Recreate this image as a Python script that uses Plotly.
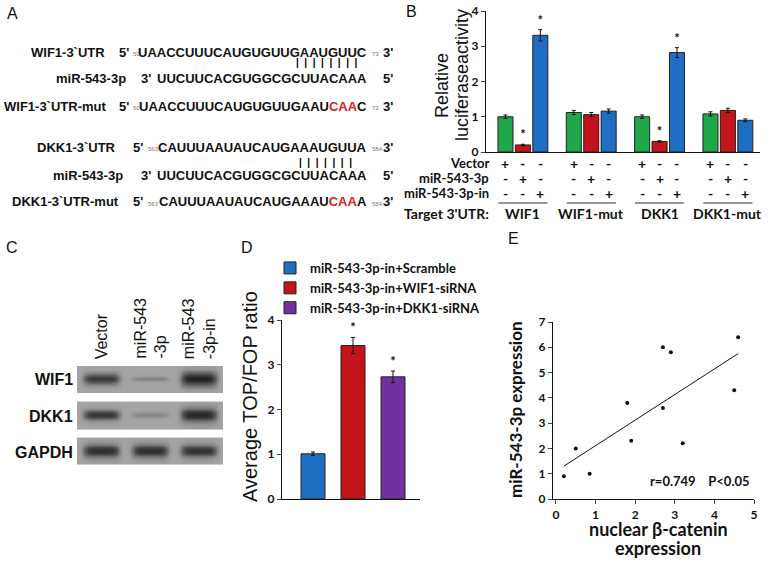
import numpy as np
import plotly.graph_objects as go

W, H = 772, 563

# ---------------- data ----------------
# Panel B: relative luciferase activity
b_groups = ["WIF1", "WIF1-mut", "DKK1", "DKK1-mut"]
b_treat = ["Vector", "miR-543-3p", "miR-543-3p-in"]
b_vector = [1.00, 1.12, 1.00, 1.08]
b_mir = [0.20, 1.06, 0.30, 1.18]
b_mirin = [3.31, 1.16, 2.82, 0.90]
b_vector_err = [0.05, 0.06, 0.05, 0.06]
b_mir_err = [0.02, 0.06, 0.02, 0.06]
b_mirin_err = [0.16, 0.06, 0.14, 0.04]
b_sig = [[False, False, False, False], [True, False, True, False], [True, False, True, False]]

# Panel D: TOP/FOP
d_names = ["miR-543-3p-in+Scramble", "miR-543-3p-in+WIF1-siRNA", "miR-543-3p-in+DKK1-siRNA"]
d_values = [1.01, 3.43, 2.73]
d_err = [0.04, 0.18, 0.13]
d_sig = [False, True, True]

# Panel E: correlation
e_x = [0.2, 0.5, 0.85, 1.8, 1.9, 2.7, 2.7, 2.9, 3.2, 4.5, 4.6]
e_y = [0.9, 2.0, 1.0, 3.8, 2.3, 6.0, 3.6, 5.8, 2.2, 4.3, 6.4]
e_fit_x = [0.2, 4.6]
e_fit_y = [1.3, 5.75]

# Panel C: western blot band intensities (rows x lanes)
blot_rows = ["WIF1", "DKK1", "GAPDH"]
blot_lanes = ["Vector", "miR-543<br>-3p", "miR-543<br>-3p-in"]
band_intensity = [[0.85, 0.28, 1.00], [0.85, 0.22, 0.95], [0.90, 0.90, 0.88]]
band_thick = [[0.15, 0.07, 0.20], [0.14, 0.07, 0.19], [0.18, 0.18, 0.17]]

# Panel A sequences
seq_rows = [
    ("WIF1-3`UTR", "5'", "50", "UAACCUUUCAUGUGUUGAAUGUUC", "73", "3'"),
    ("miR-543-3p", "3'", "", "UUCUUCACGUGGCGCUUACAAA", "", "5'"),
    ("WIF1-3`UTR-mut", "5'", "50", "UAACCUUUCAUGUGUUGAAU<span style='color:#e02020'>CAA</span>C", "73", "3'"),
    ("DKK1-3`UTR", "5'", "563", "CAUUUAAUAUCAUGAAAUGUUA", "584", "3'"),
    ("miR-543-3p", "3'", "", "UUCUUCACGUGGCGCUUACAAA", "", "5'"),
    ("DKK1-3`UTR-mut", "5'", "563", "CAUUUAAUAUCAUGAAAU<span style='color:#e02020'>CAA</span>A", "584", "3'"),
]
pair_counts = [8, 7]

GREEN, RED, BLUE, PURPLE = "#1ea84a", "#c3131b", "#1f6ec4", "#7132a0"
LATO = "Lato"
ARIAL = "Liberation Sans, Arial"


def px(x):
    return x / W


def py(y):
    return 1 - y / H


def lato(size, bold=True):
    return dict(family=LATO, size=size, color="#111", weight="bold" if bold else "normal")


def arial(size, bold=False):
    return dict(family=ARIAL, size=size, color="#111", weight="bold" if bold else "normal")


ann = []
shapes = []


def note(x, y, text, font, xanchor="center", yanchor="middle", xref="paper", yref="paper", **kw):
    ann.append(dict(x=x, y=y, xref=xref, yref=yref, text=text, font=font, showarrow=False,
                    xanchor=xanchor, yanchor=yanchor, **kw))


fig = go.Figure()

# ---------------- Panel B ----------------
offs = [-0.255, 0.0, 0.255]
colors_b = [GREEN, RED, BLUE]
vals_b = [b_vector, b_mir, b_mirin]
errs_b = [b_vector_err, b_mir_err, b_mirin_err]
for k in range(3):
    xs = [g + offs[k] for g in range(len(b_groups))]
    fig.add_trace(go.Bar(
        x=xs, y=vals_b[k], width=0.22, marker=dict(color=colors_b[k], line=dict(color="#222", width=1)),
        error_y=dict(type="data", array=errs_b[k], color="#111", thickness=1, width=2),
        xaxis="x", yaxis="y", showlegend=False, name=b_treat[k]))
    sx = [xs[i] for i in range(len(xs)) if b_sig[k][i]]
    sy = [vals_b[k][i] + errs_b[k][i] + 0.05 for i in range(len(xs)) if b_sig[k][i]]
    if sx:
        fig.add_trace(go.Scatter(x=sx, y=sy, mode="text", text=["*"] * len(sx), textposition="top center",
                                 textfont=lato(13), xaxis="x", yaxis="y", showlegend=False, hoverinfo="skip"))

row_y = [163, 178, 193]
for r, name in enumerate(b_treat):
    note(px(491), py(row_y[r]), name, lato(13), xanchor="right")
    for g in range(len(b_groups)):
        for k in range(3):
            note(g + offs[k], py(row_y[r]), "+" if k == r else "-", lato(14), xref="x")
for g, name in enumerate(b_groups):
    shapes.append(dict(type="line", xref="x", yref="paper", x0=g - 0.36, x1=g + 0.36,
                       y0=py(203), y1=py(203), line=dict(color="#333", width=1)))
    note(g, py(214), name, lato(14), xref="x")
note(px(491), py(214), "Target 3'UTR:", lato(14), xanchor="right")
note(px(442), py(86), "Relative", arial(18), textangle=-90)
note(px(462), py(75), "luciferaseactivity", arial(18), textangle=-90)

# ---------------- Panel D ----------------
colors_d = [BLUE, RED, PURPLE]
for i in range(3):
    fig.add_trace(go.Bar(
        x=[i], y=[d_values[i]], width=0.6, name=d_names[i],
        marker=dict(color=colors_d[i], line=dict(color="#222", width=1)),
        error_y=dict(type="data", array=[d_err[i]], color="#111", thickness=1, width=2),
        xaxis="x2", yaxis="y2", showlegend=True))
sx = [i for i in range(3) if d_sig[i]]
sy = [d_values[i] + d_err[i] + 0.05 for i in range(3) if d_sig[i]]
fig.add_trace(go.Scatter(x=sx, y=sy, mode="text", text=["*"] * len(sx), textposition="top center",
                         textfont=lato(13), xaxis="x2", yaxis="y2", showlegend=False, hoverinfo="skip"))
note(px(250), py(397), "Average TOP/FOP ratio", arial(20), textangle=-90)

# ---------------- Panel E ----------------
fig.add_trace(go.Scatter(x=e_x, y=e_y, mode="markers", marker=dict(color="#111", size=4),
                         xaxis="x3", yaxis="y3", showlegend=False))
fig.add_trace(go.Scatter(x=e_fit_x, y=e_fit_y, mode="lines", line=dict(color="#111", width=1),
                         xaxis="x3", yaxis="y3", showlegend=False))
note(px(752), py(481), "r=0.749&nbsp;&nbsp;&nbsp;&nbsp;P<0.05", lato(13), xanchor="right")
note(px(515), py(410), "miR-543-3p expression", lato(17), textangle=-90)
note(px(658), py(529), "nuclear β-catenin", lato(18))
note(px(658), py(548), "expression", lato(18))

# ---------------- Panel C (blot) ----------------
bx = np.linspace(-0.5, 2.5, 181)
for r in range(3):
    by = np.linspace(r - 0.375, r + 0.375, 31)
    z = np.ones((len(by), len(bx)))
    for l in range(3):
        pxp = np.exp(-((bx - l) / 0.37) ** 6)
        pyp = np.exp(-((by - r + 0.02) / band_thick[r][l]) ** 2)
        z -= band_intensity[r][l] * np.outer(pyp, pxp)
    fig.add_trace(go.Heatmap(x=bx, y=by, z=z, zmin=0, zmax=1, showscale=False, zsmooth="best",
                             colorscale=[[0, "#222222"], [0.5, "#636363"], [1, "#a4a4a4"]],
                             xaxis="x4", yaxis="y4", hoverinfo="skip"))
row_label_y = [380, 416, 452]
for r, name in enumerate(blot_rows):
    note(px(75), py(row_label_y[r]), name, arial(16, True), xanchor="right")
for l, name in enumerate(blot_lanes):
    note(l, py(361), name, arial(16), xref="x4", yanchor="bottom", textangle=-90, align="left")

# ---------------- Panel A ----------------
rows_y = [52, 79, 106, 147, 175, 202]
label_right = [107, 128, 108, 118, 125, 121]
five_left = [117, 139, 117, 131, 139, 131]
num_left = [131, 0, 131, 146, 0, 146]
for i, (lab, p5, n5, seq, n3, p3) in enumerate(seq_rows):
    y = py(rows_y[i])
    note(px(label_right[i]), y, lab, arial(13, True), xanchor="right")
    note(px(five_left[i]), y, p5, arial(13, True), xanchor="left")
    if n5:
        small = dict(family=ARIAL, size=6, color="#777")
        note(px(num_left[i]), py(rows_y[i] + 2), n5, small, xanchor="left")
        note(px(370), py(rows_y[i] + 2), n3, small, xanchor="left")
    note(px(369), y, seq, arial(13, True), xanchor="right")
    note(px(381), y, p3, arial(13, True), xanchor="left")
pair_y = [62, 162]
pair_right = [359, 354]
for j in range(2):
    txt = "\u00a0\u00a0".join(["|"] * pair_counts[j])
    note(px(pair_right[j]), py(pair_y[j]), txt, dict(family=ARIAL, size=10, color="#000", weight="bold"),
         xanchor="right")

# panel letters
for letter, (lx, ly) in zip("ABCDE", [(12, 14), (411, 11), (12, 247), (247, 247), (513, 239)]):
    note(px(lx), py(ly), letter, arial(16))

tickfont = lato(12)
axis_common = dict(showgrid=False, zeroline=False, showline=True, linecolor="#111", linewidth=1.2)

fig.update_layout(
    width=W, height=H, margin=dict(l=0, r=0, t=0, b=0, autoexpand=False),
    paper_bgcolor="white", plot_bgcolor="rgba(0,0,0,0)", barmode="overlay",
    xaxis=dict(domain=[px(486), px(760)], range=[-0.54, 3.47], showticklabels=False, ticks="", **axis_common),
    yaxis=dict(domain=[py(152), py(11)], range=[0, 4], dtick=1, ticks="outside", ticklen=4,
               tickfont=tickfont, **axis_common),
    xaxis2=dict(domain=[px(282), px(420)], range=[-0.775, 2.675], showticklabels=False, ticks="",
                anchor="y2", **axis_common),
    yaxis2=dict(domain=[py(499), py(320)], range=[0, 4], dtick=1, ticks="outside", ticklen=4,
                tickfont=tickfont, anchor="x2", **axis_common),
    xaxis3=dict(domain=[px(553), px(754)], range=[-0.075, 5], dtick=1, ticks="outside", ticklen=4,
                tickfont=tickfont, anchor="y3", **axis_common),
    yaxis3=dict(domain=[py(499), py(322)], range=[0, 7], dtick=1, ticks="outside", ticklen=4,
                tickfont=tickfont, anchor="x3", **axis_common),
    xaxis4=dict(domain=[px(77), px(223)], range=[-0.5, 2.5], visible=False, anchor="y4"),
    yaxis4=dict(domain=[py(465), py(366)], range=[2.375, -0.375], visible=False, anchor="x4"),
    legend=dict(x=px(270), y=py(253), xanchor="left", yanchor="top", bgcolor="rgba(0,0,0,0)",
                font=lato(13), tracegroupgap=0, itemwidth=30),
    annotations=ann, shapes=shapes,
)

fig.write_html("out.html", config={"displayModeBar": False},
               post_script="document.body.style.margin='0px';document.body.style.overflow='hidden';")
